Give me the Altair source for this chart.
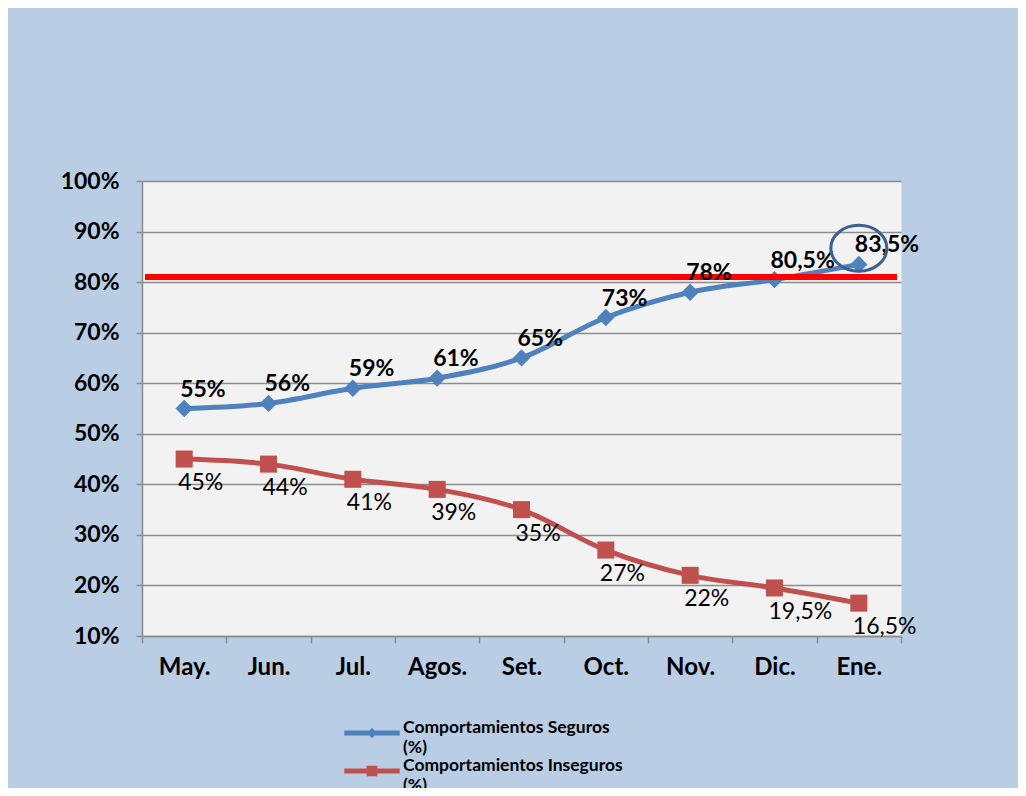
import altair as alt
import pandas as pd

months = ["May.", "Jun.", "Jul.", "Agos.", "Set.", "Oct.", "Nov.", "Dic.", "Ene."]
seguros = [0.55, 0.56, 0.59, 0.61, 0.65, 0.73, 0.78, 0.805, 0.835]
inseguros = [0.45, 0.44, 0.41, 0.39, 0.35, 0.27, 0.22, 0.195, 0.165]
series_names = ["Comportamientos Seguros|(%)", "Comportamientos Inseguros|(%)"]
series_colors = ["#4F81BD", "#C0504D"]
meta_value = 0.81
highlight_month = "Ene."
highlight_value = 0.867
y_ticks = [0.1, 0.2, 0.3, 0.4, 0.5, 0.6, 0.7, 0.8, 0.9, 1.0]

FONT = "Lato"


def fmt(v):
    p = round(v * 100, 1)
    if p == int(p):
        return f"{int(p)}%"
    return f"{p:.1f}".replace(".", ",") + "%"


rows = []
for m, s, i in zip(months, seguros, inseguros):
    rows.append({"mes": m, "serie": series_names[0], "valor": s, "etiqueta": fmt(s)})
    rows.append({"mes": m, "serie": series_names[1], "valor": i, "etiqueta": fmt(i)})
df = pd.DataFrame(rows)
df_seg = df[df.serie == series_names[0]]
df_ins = df[df.serie == series_names[1]]

blue_path = "M-3.2,-0.28 L3.2,-0.28 L3.2,0.28 L-3.2,0.28 Z M0,-0.6 L0.55,0 L0,0.6 L-0.55,0 Z"
red_path = "M-3.2,-0.28 L3.2,-0.28 L3.2,0.28 L-3.2,0.28 Z M-0.62,-0.62 L0.62,-0.62 L0.62,0.62 L-0.62,0.62 Z"

x_enc = alt.X(
    "mes:N",
    sort=months,
    scale=alt.Scale(type="band", paddingInner=0, paddingOuter=0),
    axis=alt.Axis(
        title=None,
        labelAngle=0,
        tickBand="extent",
        tickSize=7,
        labelPadding=12,
        labelFontSize=24,
        labelFontWeight="bold",
        grid=False,
    ),
)
y_scale = alt.Scale(domain=[0.1, 1.0], nice=False, zero=False)
y_enc = alt.Y(
    "valor:Q",
    scale=y_scale,
    axis=alt.Axis(
        title=None,
        values=y_ticks,
        format=".0%",
        tickSize=6,
        labelPadding=17,
        labelFontSize=23,
        labelFontWeight="bold",
        grid=True,
    ),
)
color_enc = alt.Color(
    "serie:N",
    scale=alt.Scale(domain=series_names, range=series_colors),
    legend=alt.Legend(
        title=None,
        orient="none",
        legendX=221,
        legendY=543,
        labelExpr="split(datum.label, '|')",
        labelFontSize=17.5,
        labelFontWeight="bold",
        labelOffset=22,
        labelBaseline="alphabetic",
        symbolSize=300,
        symbolStrokeWidth=0,
        rowPadding=1,
        labelLimit=400,
    ),
)
shape_enc = alt.Shape(
    "serie:N",
    scale=alt.Scale(domain=series_names, range=[blue_path, red_path]),
    legend=alt.Legend(title=None),
)

base = alt.Chart(df)

lines = base.mark_line(strokeWidth=5, interpolate="monotone").encode(
    x=x_enc, y=y_enc, color=color_enc, detail="serie:N"
)

seg_pts = alt.Chart(df_seg).mark_point(
    shape="diamond", filled=True, size=300, opacity=1
).encode(x=x_enc, y=y_enc, color=color_enc)

ins_pts = alt.Chart(df_ins).mark_point(
    shape="square", filled=True, size=290, opacity=1
).encode(x=x_enc, y=y_enc, color=color_enc)

# invisible layer carrying the merged legend (color + custom shapes)
legend_layer = base.mark_point(filled=True, size=300, opacity=0).encode(
    x=x_enc, y=y_enc, color=color_enc, shape=shape_enc
)

seg_labels = alt.Chart(df_seg).mark_text(
    align="left", baseline="middle", dx=-4, dy=-19, fontSize=23,
    fontWeight="bold", color="black", font=FONT
).encode(x=x_enc, y=y_enc, text="etiqueta:N")

ins_labels = alt.Chart(df_ins).mark_text(
    align="left", baseline="middle", dx=-6, dy=24, fontSize=23,
    fontWeight="normal", color="black", font=FONT
).encode(x=x_enc, y=y_enc, text="etiqueta:N")

meta_rule = alt.Chart(pd.DataFrame({"meta": [meta_value]})).mark_rule(
    color="#FF0000", strokeWidth=6
).encode(
    y=alt.Y("meta:Q", scale=y_scale),
    x=alt.value(3),
    x2=alt.value(755),
)

highlight = alt.Chart(
    pd.DataFrame({"mes": [highlight_month], "valor": [highlight_value]})
).mark_point(
    shape="M-1,0 A1,0.82 0 1,1 1,0 A1,0.82 0 1,1 -1,0 Z",
    size=3136, filled=False, stroke="#3B6192", strokeWidth=3, opacity=1,
).encode(x=x_enc, y=alt.Y("valor:Q", scale=y_scale))

chart = (
    alt.layer(lines, seg_pts, ins_pts, legend_layer, meta_rule, seg_labels, ins_labels, highlight)
    .resolve_scale(color="shared", shape="shared")
    .properties(
        width=759,
        height=455,
        background="#B9CDE5",
        padding={"left": 134, "top": 173, "right": 117, "bottom": 152},
        autosize=alt.AutoSizeParams(type="none"),
    )
    .configure_view(fill="#F2F2F2", stroke="transparent")
    .configure_axis(
        domainColor="#8C8C8C",
        domainWidth=1.5,
        tickColor="#8C8C8C",
        tickWidth=1.5,
        gridColor="#8C8C8C",
        gridWidth=1.5,
        labelColor="black",
        labelFont=FONT,
    )
    .configure_legend(labelFont=FONT, labelColor="black", padding=0)
    .configure_text(font=FONT)
)

chart.save("out.html", embed_options={"renderer": "svg", "actions": False})
